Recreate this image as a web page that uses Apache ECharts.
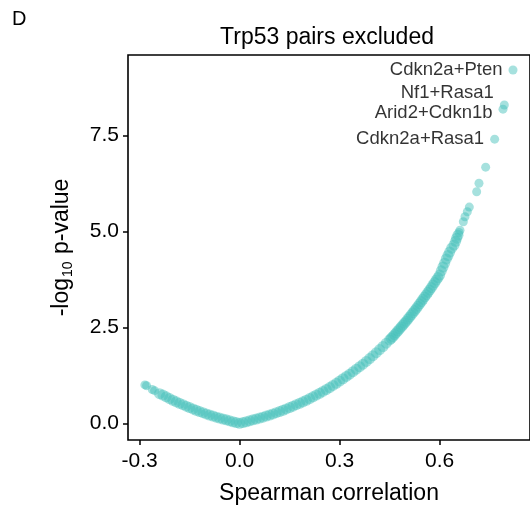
<!DOCTYPE html>
<html>
<head>
<meta charset="utf-8">
<script src="https://cdn.jsdelivr.net/npm/echarts@6/dist/echarts.min.js"></script>
<style>html,body{margin:0;padding:0;background:#fff}#c{width:530px;height:512px}</style>
</head>
<body>
<div id="c"></div>
<script>
// Spearman correlation (x) and -log10 p-value (y) of gene pairs
const corr = [
  -0.284,-0.279,-0.262,-0.255,-0.24,-0.23,-0.22,-0.21,-0.20,-0.19,-0.18,-0.17,-0.16,-0.15,-0.14,-0.13,-0.12,-0.11,-0.10,
  -0.09,-0.08,-0.07,-0.06,-0.05,-0.04,-0.03,-0.02,-0.01,
  0.00,0.01,0.02,0.03,0.04,0.05,0.06,0.07,0.08,0.09,0.10,0.11,0.12,0.13,0.14,0.15,0.16,0.17,0.18,0.19,
  0.20,0.21,0.22,0.23,0.24,0.25,0.26,0.27,0.28,0.29,0.30,0.31,0.32,0.33,0.34,0.35,0.36,0.37,0.38,0.39,
  0.40,0.41,0.42,0.43,0.44,0.45,0.455,0.46,0.465,0.47,0.475,0.48,0.485,0.49,0.495,
  0.50,0.505,0.51,0.515,0.52,0.525,0.53,0.535,0.54,0.545,0.55,0.555,0.56,0.565,0.57,0.575,0.58,0.585,0.59,0.595,
  0.60,0.605,0.61,0.615,0.62,0.625,0.63,0.636,0.643,0.648,0.651,0.655,0.658,0.661,
  0.671,0.676,0.683,0.689,0.711,0.718,0.738
];
const logp = [
  1.00,0.98,0.88,0.85,0.77,0.735,0.69,0.645,0.60,0.56,0.52,0.485,0.445,0.41,0.375,0.34,0.305,0.275,0.245,
  0.215,0.19,0.16,0.135,0.11,0.09,0.065,0.04,0.02,
  0.00,0.02,0.04,0.065,0.09,0.11,0.135,0.16,0.19,0.215,0.245,0.275,0.305,0.34,0.375,0.41,0.445,0.485,0.52,0.56,
  0.60,0.645,0.69,0.735,0.78,0.83,0.88,0.93,0.985,1.04,1.10,1.16,1.22,1.28,1.345,1.41,1.475,1.54,1.61,1.685,
  1.76,1.84,1.92,2.00,2.085,2.17,2.215,2.26,2.31,2.36,2.41,2.46,2.51,2.56,2.61,
  2.66,2.715,2.77,2.825,2.88,2.935,2.99,3.05,3.11,3.17,3.23,3.29,3.35,3.41,3.47,3.535,3.60,3.665,3.73,3.795,
  3.86,3.97,4.07,4.17,4.28,4.37,4.46,4.56,4.64,4.74,4.82,4.90,4.97,5.03,
  5.25,5.38,5.51,5.63,6.03,6.25,6.67
];
// labelled pairs
const labelNames = ["Cdkn2a+Pten","Nf1+Rasa1","Arid2+Cdkn1b","Cdkn2a+Rasa1"];
const labelCorr  = [0.820,0.794,0.790,0.765];
const labelLogp  = [9.20,8.29,8.18,7.40];

const xTicks = [-0.3,0.0,0.3,0.6];
const yTicks = [0.0,2.5,5.0,7.5];

const FONT = "'Liberation Sans', Arial, Helvetica, sans-serif";
const COLOR = 'rgba(70,192,187,0.6)';

const bandData = corr.map((c,i)=>[c,logp[i]]);
const labelDy = [0,-12,4,0];
const labelData = labelNames.map((n,i)=>({name:n, value:[labelCorr[i],labelLogp[i]]}));

const chart = echarts.init(document.getElementById('c'), null, {renderer:'canvas'});
chart.setOption({
  animation:false,
  backgroundColor:'#fff',
  graphic:[
    {type:'text', left:12, top:9, style:{text:'D', font:'20px '+FONT, fill:'#000'}},
    {type:'text', x:327, y:38, style:{text:'Trp53 pairs excluded', font:'23px '+FONT, fill:'#000', textAlign:'center', textVerticalAlign:'middle'}}
  ],
  grid:{left:128, top:55, width:406, height:385, show:true, borderColor:'#000', borderWidth:1.6, backgroundColor:'transparent'},
  xAxis:{type:'value', min:-0.3347, max:0.871,
    name:'Spearman correlation', nameLocation:'middle', nameGap:42,
    nameTextStyle:{fontSize:23, fontFamily:FONT, color:'#000'},
    axisLine:{show:false, onZero:false}, splitLine:{show:false},
    axisTick:{show:true, length:5, lineStyle:{color:'#000', width:1.5}, customValues:xTicks},
    axisLabel:{customValues:xTicks, margin:11, fontSize:21, fontFamily:FONT, color:'#000',
      formatter:v=>v.toFixed(1)}
  },
  yAxis:{type:'value', min:-0.435, max:9.591,
    name:'-log{sub|10} p-value', nameLocation:'middle', nameGap:53,
    nameTextStyle:{fontSize:23, fontFamily:FONT, color:'#000',
      rich:{sub:{fontSize:14, fontFamily:FONT, color:'#000', padding:[12,1,0,1]}}},
    axisLine:{show:false, onZero:false}, splitLine:{show:false},
    axisTick:{show:true, length:5, lineStyle:{color:'#000', width:1.5}, customValues:yTicks},
    axisLabel:{customValues:yTicks, margin:9, fontSize:21, fontFamily:FONT, color:'#000',
      formatter:v=>v.toFixed(1)}
  },
  series:[
    {type:'scatter', data:bandData, symbolSize:v=>(v[1]>4.9 || v[0]<-0.25) ? 9 : 11, itemStyle:{color:COLOR}, silent:true},
    {type:'scatter', data:labelData, symbolSize:9, itemStyle:{color:COLOR}, silent:true,
     label:{show:true, position:'left', distance:6, formatter:p=>p.name,
            color:'#000', fontSize:18.5, fontFamily:FONT},
     labelLayout:p=>({dy:labelDy[p.dataIndex], hideOverlap:false})}
  ]
});
</script>
</body>
</html>
